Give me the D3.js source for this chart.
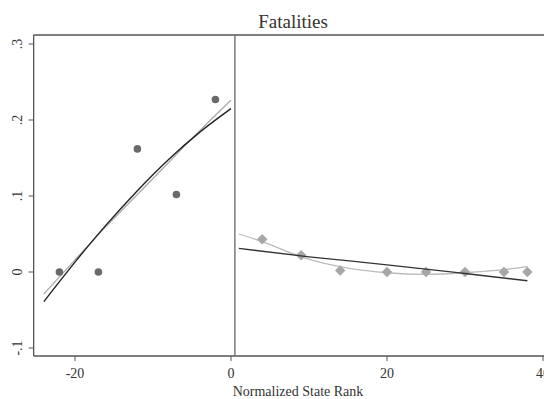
<!DOCTYPE html>
<html>
<head>
<meta charset="utf-8">
<script src="https://cdn.jsdelivr.net/npm/d3@7.9.0/dist/d3.min.js"></script>
<style>
  body { margin: 0; background: #fff; }
  svg { display: block; font-family: "Liberation Serif", "DejaVu Serif", serif; }
</style>
</head>
<body>
<svg width="544" height="399"></svg>
<script>
// observed points
const leftX = [-22, -17, -12, -7, -2];
const leftY = [0, 0, 0.162, 0.102, 0.227];
const rightX = [4, 9, 14, 20, 25, 30, 35, 38];
const rightY = [0.043, 0.022, 0.002, 0, 0, 0, 0, 0];

// fitted lines
const leftFitX = [-24, -20, -16, -12, -8, -4, 0];
const leftBlackY = [-0.039, 0.013, 0.062, 0.107, 0.148, 0.184, 0.215];
const leftGrayY = [-0.029, 0.016, 0.060, 0.102, 0.144, 0.186, 0.226];
const rightBlackX = [1, 10, 20, 30, 38];
const rightBlackY = [0.031, 0.020, 0.0095, -0.002, -0.0115];
const rightGrayX = [1, 4, 9, 14, 20, 25, 30, 35, 38];
const rightGrayY = [0.050, 0.040, 0.020, 0.007, -0.001, -0.003, -0.001, 0.003, 0.007];

const xTicks = [-20, 0, 20, 40];
const yTicks = [-0.1, 0, 0.1, 0.2, 0.3];
const yTickLabels = ['-.1', '0', '.1', '.2', '.3'];
const cutoff = 0.5;

const svg = d3.select('svg');
const axisColor = '#555';

const x = d3.scaleLinear().domain([-20, 20]).range([75, 387]);
const y = d3.scaleLinear().domain([0, 0.1]).range([272, 196]);

const plotLeft = x(-25.3), plotRight = 560, plotTop = 35, plotBottom = 356;

// frame: left axis, bottom axis, top line
svg.append('line').attr('x1', plotLeft).attr('x2', plotLeft).attr('y1', plotTop).attr('y2', plotBottom)
  .attr('stroke', axisColor).attr('stroke-width', 1.3);
svg.append('line').attr('x1', plotLeft).attr('x2', plotRight).attr('y1', plotBottom).attr('y2', plotBottom)
  .attr('stroke', axisColor).attr('stroke-width', 1.3);
svg.append('line').attr('x1', plotLeft).attr('x2', plotRight).attr('y1', plotTop).attr('y2', plotTop)
  .attr('stroke', axisColor).attr('stroke-width', 1.3);

// cutoff line
svg.append('line').attr('x1', x(cutoff)).attr('x2', x(cutoff)).attr('y1', plotTop).attr('y2', plotBottom)
  .attr('stroke', '#666').attr('stroke-width', 1.3);

// y ticks
yTicks.forEach((t, i) => {
  svg.append('line').attr('x1', plotLeft - 5).attr('x2', plotLeft).attr('y1', y(t)).attr('y2', y(t))
    .attr('stroke', axisColor).attr('stroke-width', 1);
  svg.append('text')
    .attr('transform', `translate(22,${y(t)}) rotate(-90)`)
    .attr('text-anchor', 'middle')
    .attr('font-size', 14)
    .attr('fill', '#333')
    .text(yTickLabels[i]);
});

// x ticks
xTicks.forEach((t) => {
  svg.append('line').attr('x1', x(t)).attr('x2', x(t)).attr('y1', plotBottom).attr('y2', plotBottom + 5)
    .attr('stroke', axisColor).attr('stroke-width', 1);
  svg.append('text')
    .attr('x', x(t)).attr('y', 378)
    .attr('text-anchor', 'middle')
    .attr('font-size', 14)
    .attr('fill', '#333')
    .text(t);
});

// titles
svg.append('text').attr('x', 293).attr('y', 28).attr('text-anchor', 'middle')
  .attr('font-size', 19).attr('fill', '#333').text('Fatalities');
svg.append('text').attr('x', 298).attr('y', 396).attr('text-anchor', 'middle')
  .attr('font-size', 14).attr('fill', '#333').text('Normalized State Rank');

// lines
const line = d3.line().x((d) => x(d[0])).y((d) => y(d[1])).curve(d3.curveMonotoneX);

function drawLine(xs, ys, color, width) {
  svg.append('path')
    .attr('d', line(xs.map((v, i) => [v, ys[i]])))
    .attr('fill', 'none')
    .attr('stroke', color)
    .attr('stroke-width', width);
}

drawLine(leftFitX, leftGrayY, '#aaa', 1.3);
drawLine(rightGrayX, rightGrayY, '#bbb', 1.3);

// points
leftX.forEach((v, i) => {
  svg.append('circle').attr('cx', x(v)).attr('cy', y(leftY[i])).attr('r', 3.8).attr('fill', '#6a6a6a');
});
const diamond = d3.symbol().type(d3.symbolDiamond2).size(70);
rightX.forEach((v, i) => {
  svg.append('path').attr('d', diamond())
    .attr('transform', `translate(${x(v)},${y(rightY[i])})`)
    .attr('fill', '#a6a6a6');
});

drawLine(leftFitX, leftBlackY, '#222', 1.4);
drawLine(rightBlackX, rightBlackY, '#333', 1.3);
</script>
</body>
</html>
